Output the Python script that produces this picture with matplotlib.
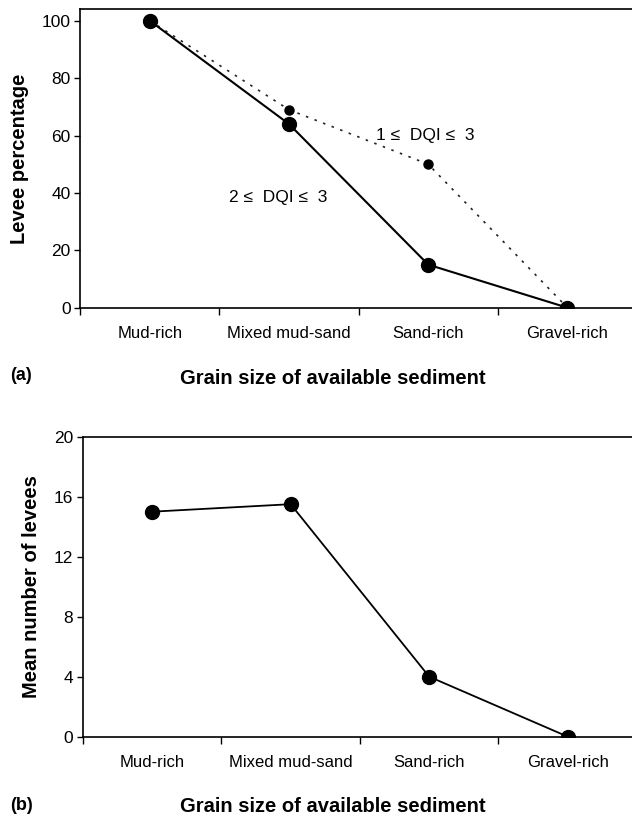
import numpy as np
import matplotlib.pyplot as plt

plt.rcParams['font.family'] = ['Liberation Sans', 'DejaVu Sans']

categories = ["Mud-rich", "Mixed mud-sand", "Sand-rich", "Gravel-rich"]
levee_pct_dqi_2_3 = [100, 64, 15, 0]
levee_pct_dqi_1_3 = [100, 69, 50, 0]
mean_levees = [15, 15.5, 4, 0]

x = np.arange(len(categories))

fig = plt.figure(figsize=(6.32, 8.19), dpi=100)


def style_axis(ax, ymax, yticks):
    ax.set_xlim(-0.5, 3.5)
    ax.set_ylim(0, ymax)
    ax.set_yticks(yticks)
    ax.set_xticks(np.arange(-0.5, 4.0, 1.0))
    ax.set_xticklabels([])
    ax.set_xticks(x, minor=True)
    ax.set_xticklabels(categories, minor=True, fontsize=12)
    ax.tick_params(axis='x', which='minor', length=0, pad=13)
    ax.tick_params(axis='x', which='major', direction='out', length=5, width=1)
    ax.tick_params(axis='y', direction='out', length=4, width=1, labelsize=12.5, pad=3)
    for s in ax.spines.values():
        s.set_linewidth(1.2)


# panel (a)
ax1 = fig.add_axes([0.127, 0.6243, 0.881, 0.3643])
ax1.plot(x, levee_pct_dqi_1_3, color='#222222', linestyle=(0, (1.5, 4)), linewidth=1.2,
         marker='o', markersize=6.5, markerfacecolor='black', markeredgecolor='black')
ax1.plot(x, levee_pct_dqi_2_3, color='black', linewidth=1.5,
         marker='o', markersize=10, markerfacecolor='black', markeredgecolor='black')
style_axis(ax1, 104, [0, 20, 40, 60, 80, 100])
ax1.set_ylabel("Levee percentage", fontsize=14.5, fontweight='bold', labelpad=9)
ax1.text(1.98, 60, "1 \u2264  DQI \u2264  3", fontsize=12.5, ha='center', va='center')
ax1.text(0.92, 38.5, "2 \u2264  DQI \u2264  3", fontsize=12.5, ha='center', va='center')

# panel (b)
ax2 = fig.add_axes([0.131, 0.1005, 0.877, 0.3663])
ax2.plot(x, mean_levees, color='black', linewidth=1.3,
         marker='o', markersize=10, markerfacecolor='black', markeredgecolor='black')
style_axis(ax2, 20, [0, 4, 8, 12, 16, 20])
ax2.set_ylabel("Mean number of levees", fontsize=14.5, fontweight='bold', labelpad=9)

fig.text(0.016, 1 - 376 / 819, "(a)", fontsize=13, fontweight='bold', va='center')
fig.text(0.527, 1 - 378 / 819, "Grain size of available sediment", fontsize=14.5,
         fontweight='bold', ha='center', va='center')
fig.text(0.016, 1 - 805 / 819, "(b)", fontsize=13, fontweight='bold', va='center')
fig.text(0.527, 1 - 806 / 819, "Grain size of available sediment", fontsize=14.5,
         fontweight='bold', ha='center', va='center')

fig.savefig("out.png", dpi=100)
